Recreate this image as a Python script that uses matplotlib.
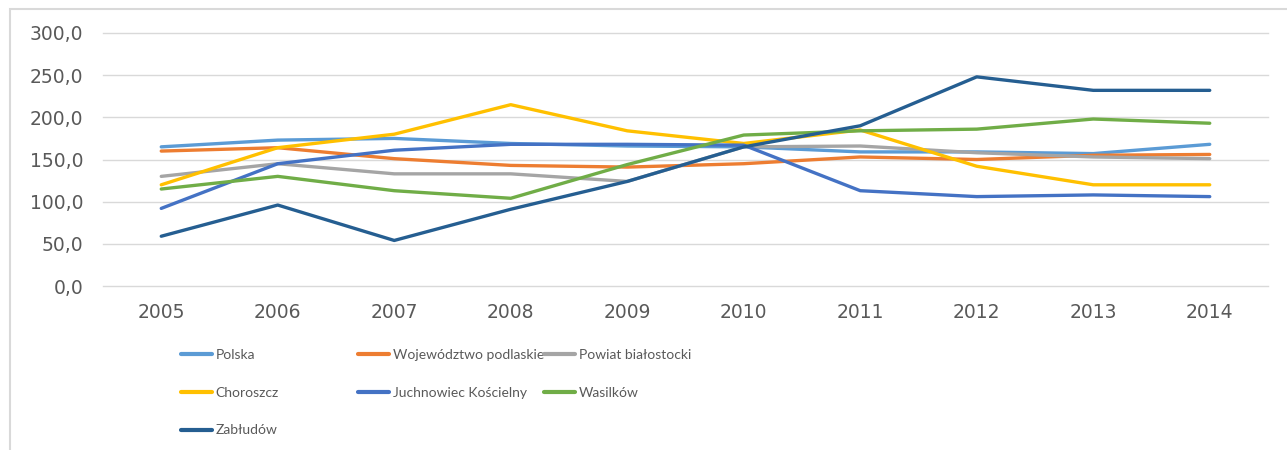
import matplotlib
matplotlib.use("Agg")
import matplotlib.pyplot as plt
from matplotlib.patches import Rectangle

years = [2005, 2006, 2007, 2008, 2009, 2010, 2011, 2012, 2013, 2014]

polska = [165, 173, 175, 169, 166, 165, 159, 159, 157, 168]
wojewodztwo = [160, 164, 151, 143, 141, 145, 153, 150, 155, 156]
powiat = [130, 145, 133, 133, 124, 165, 166, 158, 153, 151]
choroszcz = [120, 164, 180, 215, 184, 169, 185, 142, 120, 120]
juchnowiec = [92, 145, 161, 168, 168, 167, 113, 106, 108, 106]
wasilkow = [115, 130, 113, 104, 144, 179, 184, 186, 198, 193]
zabludow = [59, 96, 54, 91, 124, 165, 190, 248, 232, 232]

names = ["Polska", "Województwo podlaskie", "Powiat białostocki", "Choroszcz",
         "Juchnowiec Kościelny", "Wasilków", "Zabłudów"]
series = [polska, wojewodztwo, powiat, choroszcz, juchnowiec, wasilkow, zabludow]
colors = ["#5B9BD5", "#ED7D31", "#A5A5A5", "#FFC000", "#4472C4", "#70AD47", "#255E91"]

yticks = [0, 50, 100, 150, 200, 250, 300]
ytick_labels = ["0,0", "50,0", "100,0", "150,0", "200,0", "250,0", "300,0"]

fig = plt.figure(figsize=(12.87, 4.5), dpi=100)

# outer chart frame (cut off on the right/bottom in the reference)
fig.patches.append(Rectangle((10 / 1287, -0.1), 1.2, 1.1 - 9 / 450,
                             transform=fig.transFigure, fill=False,
                             edgecolor="#D9D9D9", linewidth=1.5))
fig.text(14 / 1287, 1 + 9 / 450, "p", fontsize=13, color="black",
         va="baseline", ha="left")

ax = fig.add_axes([103 / 1287, 1 - 286 / 450, (1268 - 103) / 1287, (286 - 33) / 450])

x = list(range(len(years)))
lines = []
for name, vals, col in zip(names, series, colors):
    ln, = ax.plot(x, vals, color=col, linewidth=2.4, label=name,
                  solid_capstyle="round", solid_joinstyle="round")
    lines.append(ln)

ax.set_xlim(-0.5, len(years) - 0.5)
ax.set_ylim(0, 300)
ax.set_yticks(yticks)
ax.set_yticklabels(ytick_labels)
ax.set_xticks(x)
ax.set_xticklabels([str(y) for y in years])
ax.grid(axis="y", color="#D9D9D9", linewidth=1)
for gl in ax.get_ygridlines():
    gl.set_clip_on(False)
ax.set_axisbelow(True)
for s in ax.spines.values():
    s.set_visible(False)
ax.tick_params(length=0, labelsize=13.5, colors="#595959")
ax.tick_params(axis="y", pad=14)
ax.tick_params(axis="x", pad=12)

legend_font = {"family": ["Lato", "DejaVu Sans"], "size": 10}
cols = [[0, 3, 6], [1, 4], [2, 5]]
col_x = [181, 358, 544]
for idx, cx in zip(cols, col_x):
    leg = fig.legend([lines[i] for i in idx], [names[i] for i in idx],
                     loc="upper left", bbox_to_anchor=(cx / 1287, 1 - 349 / 450),
                     frameon=False, prop=legend_font, handlelength=2.2,
                     handletextpad=0.3, labelspacing=1.85, borderpad=0,
                     borderaxespad=0, labelcolor="#595959")
    for h in leg.legend_handles:
        h.set_linewidth(3)

fig.savefig("out.png", dpi=100)
